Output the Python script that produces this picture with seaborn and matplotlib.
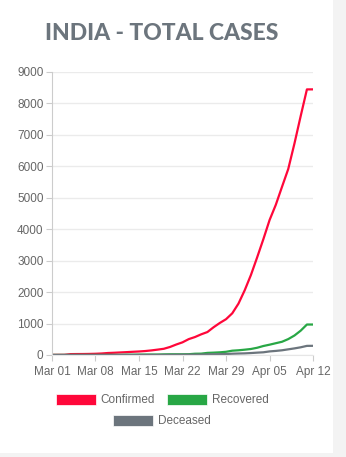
import numpy as np
import pandas as pd
import matplotlib
matplotlib.use("Agg")
import matplotlib.pyplot as plt
import matplotlib.dates as mdates
from matplotlib.patches import Patch, Rectangle
import seaborn as sns

# ---- data (cumulative counts, Mar 01 .. Apr 12, 2020) ----
dates = pd.date_range("2020-03-01", "2020-04-12", freq="D")
confirmed = [3, 5, 6, 28, 30, 31, 34, 39, 48, 63, 71, 81, 91, 102, 112, 126, 146, 171,
             198, 256, 334, 403, 505, 571, 657, 730, 883, 1019, 1139, 1326, 1635, 2059,
             2545, 3105, 3684, 4293, 4777, 5350, 5915, 6728, 7599, 8446, 8447]
recovered = [3, 3, 3, 3, 3, 3, 3, 3, 3, 4, 4, 4, 10, 10, 13, 14, 15, 15, 20, 23, 23, 23,
             25, 40, 43, 67, 75, 85, 102, 137, 150, 169, 191, 230, 286, 328, 375, 421,
             506, 620, 774, 969, 969]
deceased = [0, 0, 0, 0, 0, 0, 0, 0, 0, 0, 1, 1, 2, 2, 2, 2, 3, 3, 4, 5, 7, 9, 10, 11, 12,
            20, 24, 27, 32, 41, 47, 52, 62, 75, 86, 114, 130, 150, 180, 210, 245, 290, 292]
series_names = ["Confirmed", "Recovered", "Deceased"]
colors = ["#ff073a", "#28a745", "#6c757d"]
y_ticks = [0, 1000, 2000, 3000, 4000, 5000, 6000, 7000, 8000, 9000]

df = pd.DataFrame({"date": np.tile(dates, 3),
                   "cases": confirmed + recovered + deceased,
                   "series": np.repeat(series_names, len(dates))})

sns.set_style("white")
plt.rcParams["font.family"] = ["Liberation Sans", "DejaVu Sans"]

fig = plt.figure(figsize=(3.46, 4.57), dpi=100)
fig.patch.set_facecolor("#f3f3f3")
fig.patches.append(Rectangle((0, 0.008), 0.962, 0.992, transform=fig.transFigure,
                             facecolor="white", edgecolor="none", zorder=-5))

ax = fig.add_axes([0.150, 0.2232, 0.755, 0.6193])
ax.set_facecolor("none")
ax.set_zorder(2)
sns.lineplot(data=df, x="date", y="cases", hue="series", palette=colors,
             linewidth=1.6, ax=ax, legend=False)

ax.set_ylim(0, 9000)
ax.set_yticks(y_ticks)
ax.set_xlim(dates[0], dates[-1])
ax.set_xticks(dates[::7])
ax.xaxis.set_major_formatter(mdates.DateFormatter("%b %d"))
ax.grid(axis="y", color="#ebebeb", linewidth=1)
ax.set_axisbelow(True)
for s in ["top", "right"]:
    ax.spines[s].set_visible(False)
ax.spines["left"].set_color("#cccccc")
ax.spines["bottom"].set_color("#e6e6e6")
ax.tick_params(axis="both", colors="#cccccc", labelcolor="#666666", labelsize=8.5,
               length=4, width=0.8, pad=2, left=True, bottom=True)
ax.tick_params(axis="x", pad=4)
ax.set_xlabel("")
ax.set_ylabel("")

fig.text(0.468, 0.926, "INDIA - TOTAL CASES", ha="center", va="center",
         fontsize=16.5, fontweight=900, color="#6c757d", family=["Lato", "DejaVu Sans"])

handles = [Patch(facecolor=c, edgecolor="#ffffff", linewidth=0.5) for c in colors]
leg1 = fig.legend(handles[:2], series_names[:2], loc="center", ncol=2,
                  bbox_to_anchor=(0.468, 0.125), frameon=False, fontsize=8.5,
                  handlelength=3.4, handleheight=1.1, handletextpad=0.4,
                  columnspacing=1.0)
leg2 = ax.legend(handles[2:], series_names[2:], loc="center",
                 bbox_to_anchor=(0.468, 0.079), bbox_transform=fig.transFigure,
                 frameon=False, fontsize=8.5,
                 handlelength=3.4, handleheight=1.1, handletextpad=0.4)
for lg in (leg1, leg2):
    for t in lg.get_texts():
        t.set_color("#666666")

fig.savefig("out.png", dpi=100, facecolor=fig.get_facecolor())
